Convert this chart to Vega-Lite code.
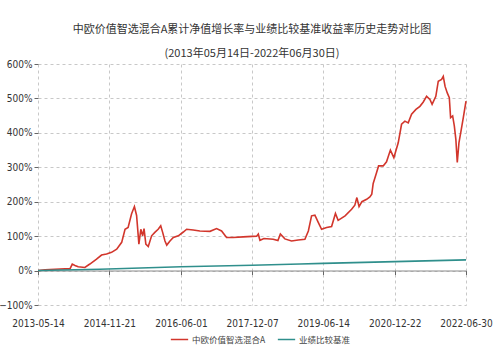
{
  "$schema": "https://vega.github.io/schema/vega-lite/v6.json",
  "width": 428,
  "height": 241,
  "autosize": {"type": "none"},
  "padding": {"left": 38, "top": 64, "right": 34, "bottom": 53},
  "background": "white",
  "title": {
    "text": ["中欧价值智选混合A累计净值增长率与业绩比较基准收益率历史走势对比图", "(2013年05月14日-2022年06月30日)"],
    "font": "Noto Sans CJK SC",
    "fontSize": 11,
    "fontWeight": "normal",
    "color": "#333333",
    "lineHeight": 24,
    "anchor": "middle",
    "offset": 0
  },
  "config": {
    "view": {"stroke": null},
    "axis": {"labelFont": "DejaVu Sans Condensed", "labelColor": "#333333", "labelFontSize": 10, "labelOverlap": false, "labelFlush": false}
  },
  "data": {
    "values": [
      {"d": "2013/05/14", "s": "中欧价值智选混合A", "v": 0},
      {"d": "2013/07/08", "s": "中欧价值智选混合A", "v": 0.02},
      {"d": "2013/09/23", "s": "中欧价值智选混合A", "v": 0.04},
      {"d": "2013/12/10", "s": "中欧价值智选混合A", "v": 0.05},
      {"d": "2014/01/18", "s": "中欧价值智选混合A", "v": 0.05},
      {"d": "2014/02/05", "s": "中欧价值智选混合A", "v": 0.19},
      {"d": "2014/02/26", "s": "中欧价值智选混合A", "v": 0.15},
      {"d": "2014/03/23", "s": "中欧价值智选混合A", "v": 0.11},
      {"d": "2014/05/14", "s": "中欧价值智选混合A", "v": 0.09},
      {"d": "2014/06/22", "s": "中欧价值智选混合A", "v": 0.19},
      {"d": "2014/08/13", "s": "中欧价值智选混合A", "v": 0.33},
      {"d": "2014/09/21", "s": "中欧价值智选混合A", "v": 0.45},
      {"d": "2014/10/30", "s": "中欧价值智选混合A", "v": 0.48},
      {"d": "2014/12/08", "s": "中欧价值智选混合A", "v": 0.53},
      {"d": "2015/01/17", "s": "中欧价值智选混合A", "v": 0.62},
      {"d": "2015/02/25", "s": "中欧价值智选混合A", "v": 0.82},
      {"d": "2015/03/23", "s": "中欧价值智选混合A", "v": 1.20},
      {"d": "2015/04/16", "s": "中欧价值智选混合A", "v": 1.25},
      {"d": "2015/05/13", "s": "中欧价值智选混合A", "v": 1.65},
      {"d": "2015/06/04", "s": "中欧价值智选混合A", "v": 1.86},
      {"d": "2015/06/21", "s": "中欧价值智选混合A", "v": 1.60},
      {"d": "2015/07/09", "s": "中欧价值智选混合A", "v": 0.77},
      {"d": "2015/07/24", "s": "中欧价值智选混合A", "v": 1.20},
      {"d": "2015/08/07", "s": "中欧价值智选混合A", "v": 1.01},
      {"d": "2015/08/18", "s": "中欧价值智选混合A", "v": 1.22},
      {"d": "2015/09/01", "s": "中欧价值智选混合A", "v": 0.77},
      {"d": "2015/09/20", "s": "中欧价值智选混合A", "v": 0.70},
      {"d": "2015/10/16", "s": "中欧价值智选混合A", "v": 1.01},
      {"d": "2015/11/10", "s": "中欧价值智选混合A", "v": 1.11},
      {"d": "2015/12/06", "s": "中欧价值智选混合A", "v": 1.20},
      {"d": "2015/12/26", "s": "中欧价值智选混合A", "v": 1.30},
      {"d": "2016/01/10", "s": "中欧价值智选混合A", "v": 1.11},
      {"d": "2016/01/28", "s": "中欧价值智选混合A", "v": 0.86},
      {"d": "2016/02/11", "s": "中欧价值智选混合A", "v": 0.74},
      {"d": "2016/03/07", "s": "中欧价值智选混合A", "v": 0.86},
      {"d": "2016/04/02", "s": "中欧价值智选混合A", "v": 0.96},
      {"d": "2016/05/11", "s": "中欧价值智选混合A", "v": 1.01},
      {"d": "2016/06/19", "s": "中欧价值智选混合A", "v": 1.12},
      {"d": "2016/07/15", "s": "中欧价值智选混合A", "v": 1.20},
      {"d": "2016/09/04", "s": "中欧价值智选混合A", "v": 1.18},
      {"d": "2016/10/26", "s": "中欧价值智选混合A", "v": 1.15},
      {"d": "2017/01/13", "s": "中欧价值智选混合A", "v": 1.14},
      {"d": "2017/03/05", "s": "中欧价值智选混合A", "v": 1.22},
      {"d": "2017/04/13", "s": "中欧价值智选混合A", "v": 1.15},
      {"d": "2017/05/22", "s": "中欧价值智选混合A", "v": 0.96},
      {"d": "2017/07/12", "s": "中欧价值智选混合A", "v": 0.96},
      {"d": "2017/09/28", "s": "中欧价值智选混合A", "v": 0.98},
      {"d": "2018/01/11", "s": "中欧价值智选混合A", "v": 1.00},
      {"d": "2018/01/24", "s": "中欧价值智选混合A", "v": 1.06},
      {"d": "2018/02/06", "s": "中欧价值智选混合A", "v": 0.88},
      {"d": "2018/03/09", "s": "中欧价值智选混合A", "v": 0.93},
      {"d": "2018/05/20", "s": "中欧价值智选混合A", "v": 0.91},
      {"d": "2018/06/26", "s": "中欧价值智选混合A", "v": 0.87},
      {"d": "2018/07/15", "s": "中欧价值智选混合A", "v": 1.06},
      {"d": "2018/08/19", "s": "中欧价值智选混合A", "v": 0.92},
      {"d": "2018/10/10", "s": "中欧价值智选混合A", "v": 0.86},
      {"d": "2018/12/01", "s": "中欧价值智选混合A", "v": 0.89},
      {"d": "2019/01/22", "s": "中欧价值智选混合A", "v": 0.91},
      {"d": "2019/02/18", "s": "中欧价值智选混合A", "v": 1.15},
      {"d": "2019/03/15", "s": "中欧价值智选混合A", "v": 1.59},
      {"d": "2019/04/10", "s": "中欧价值智选混合A", "v": 1.61},
      {"d": "2019/05/06", "s": "中欧价值智选混合A", "v": 1.40},
      {"d": "2019/06/01", "s": "中欧价值智选混合A", "v": 1.20},
      {"d": "2019/07/10", "s": "中欧价值智选混合A", "v": 1.25},
      {"d": "2019/08/18", "s": "中欧价值智选混合A", "v": 1.28},
      {"d": "2019/09/17", "s": "中欧价值智选混合A", "v": 1.66},
      {"d": "2019/10/08", "s": "中欧价值智选混合A", "v": 1.46},
      {"d": "2019/12/01", "s": "中欧价值智选混合A", "v": 1.59},
      {"d": "2020/01/21", "s": "中欧价值智选混合A", "v": 1.78},
      {"d": "2020/02/15", "s": "中欧价值智选混合A", "v": 1.90},
      {"d": "2020/03/02", "s": "中欧价值智选混合A", "v": 2.12},
      {"d": "2020/03/19", "s": "中欧价值智选混合A", "v": 1.86},
      {"d": "2020/04/10", "s": "中欧价值智选混合A", "v": 2.00},
      {"d": "2020/05/17", "s": "中欧价值智选混合A", "v": 2.07},
      {"d": "2020/06/11", "s": "中欧价值智选混合A", "v": 2.14},
      {"d": "2020/06/26", "s": "中欧价值智选混合A", "v": 2.22},
      {"d": "2020/07/07", "s": "中欧价值智选混合A", "v": 2.53},
      {"d": "2020/08/02", "s": "中欧价值智选混合A", "v": 2.84},
      {"d": "2020/08/18", "s": "中欧价值智选混合A", "v": 3.04},
      {"d": "2020/09/23", "s": "中欧价值智选混合A", "v": 3.04},
      {"d": "2020/10/19", "s": "中欧价值智选混合A", "v": 3.16},
      {"d": "2020/11/18", "s": "中欧价值智选混合A", "v": 3.50},
      {"d": "2020/12/15", "s": "中欧价值智选混合A", "v": 3.28},
      {"d": "2021/01/18", "s": "中欧价值智选混合A", "v": 3.71},
      {"d": "2021/02/13", "s": "中欧价值智选混合A", "v": 4.25},
      {"d": "2021/03/11", "s": "中欧价值智选混合A", "v": 4.34},
      {"d": "2021/04/06", "s": "中欧价值智选混合A", "v": 4.29},
      {"d": "2021/05/02", "s": "中欧价值智选混合A", "v": 4.54},
      {"d": "2021/06/05", "s": "中欧价值智选混合A", "v": 4.68},
      {"d": "2021/07/06", "s": "中欧价值智选混合A", "v": 4.77},
      {"d": "2021/07/31", "s": "中欧价值智选混合A", "v": 4.89},
      {"d": "2021/08/27", "s": "中欧价值智选混合A", "v": 5.06},
      {"d": "2021/09/22", "s": "中欧价值智选混合A", "v": 4.97},
      {"d": "2021/10/09", "s": "中欧价值智选混合A", "v": 4.83},
      {"d": "2021/11/07", "s": "中欧价值智选混合A", "v": 5.06},
      {"d": "2021/11/26", "s": "中欧价值智选混合A", "v": 5.50},
      {"d": "2021/12/22", "s": "中欧价值智选混合A", "v": 5.55},
      {"d": "2022/01/04", "s": "中欧价值智选混合A", "v": 5.64},
      {"d": "2022/01/18", "s": "中欧价值智选混合A", "v": 5.35},
      {"d": "2022/02/04", "s": "中欧价值智选混合A", "v": 5.16},
      {"d": "2022/02/20", "s": "中欧价值智选混合A", "v": 5.02},
      {"d": "2022/03/02", "s": "中欧价值智选混合A", "v": 4.44},
      {"d": "2022/03/18", "s": "中欧价值智选混合A", "v": 4.49},
      {"d": "2022/03/31", "s": "中欧价值智选混合A", "v": 4.20},
      {"d": "2022/04/12", "s": "中欧价值智选混合A", "v": 3.81},
      {"d": "2022/04/23", "s": "中欧价值智选混合A", "v": 3.14},
      {"d": "2022/05/06", "s": "中欧价值智选混合A", "v": 3.71},
      {"d": "2022/05/22", "s": "中欧价值智选混合A", "v": 4.05},
      {"d": "2022/06/09", "s": "中欧价值智选混合A", "v": 4.44},
      {"d": "2022/06/30", "s": "中欧价值智选混合A", "v": 4.92},
      {"d": "2013/05/14", "s": "业绩比较基准", "v": 0},
      {"d": "2014/09/08", "s": "业绩比较基准", "v": 0.04},
      {"d": "2016/06/01", "s": "业绩比较基准", "v": 0.11},
      {"d": "2017/12/07", "s": "业绩比较基准", "v": 0.155},
      {"d": "2018/12/15", "s": "业绩比较基准", "v": 0.19},
      {"d": "2019/06/14", "s": "业绩比较基准", "v": 0.21},
      {"d": "2020/12/22", "s": "业绩比较基准", "v": 0.26},
      {"d": "2022/06/30", "s": "业绩比较基准", "v": 0.31}
    ]
  },
  "mark": {"type": "line", "strokeWidth": 1.6, "interpolate": "linear"},
  "encoding": {
    "x": {
      "field": "d",
      "type": "temporal",
      "scale": {
        "domain": [{"year": 2013, "month": 5, "date": 14}, {"year": 2022, "month": 6, "date": 30}],
        "nice": false
      },
      "axis": {
        "title": null,
        "format": "%Y-%m-%d",
        "values": [
          {"year": 2013, "month": 5, "date": 14},
          {"year": 2014, "month": 11, "date": 21},
          {"year": 2016, "month": 6, "date": 1},
          {"year": 2017, "month": 12, "date": 7},
          {"year": 2019, "month": 6, "date": 14},
          {"year": 2020, "month": 12, "date": 22},
          {"year": 2022, "month": 6, "date": 30}
        ],
        "offset": -34.5,
        "domain": true,
        "domainColor": "#8a8a8a",
        "ticks": true,
        "tickSize": 4,
        "tickColor": "#666666",
        "labelPadding": 44,
        "grid": true,
        "gridDash": [3, 3],
        "gridColor": "#c8c8c8"
      }
    },
    "y": {
      "field": "v",
      "type": "quantitative",
      "scale": {"domain": [-1, 6], "nice": false},
      "axis": {
        "title": null,
        "values": [-1, 0, 1, 2, 3, 4, 5, 6],
        "format": ".0%",
        "labelOverlap": false,
        "domain": false,
        "tickSize": 4,
        "tickColor": "#666666",
        "labelPadding": 2,
        "grid": true,
        "gridDash": [3, 3],
        "gridColor": "#c8c8c8"
      }
    },
    "color": {
      "field": "s",
      "type": "nominal",
      "scale": {"domain": ["中欧价值智选混合A", "业绩比较基准"], "range": ["#d2362c", "#2f8f8c"]},
      "legend": {
        "title": null,
        "orient": "none",
        "legendX": 132,
        "legendY": 266,
        "direction": "horizontal",
        "symbolType": "stroke",
        "symbolSize": 300,
        "symbolStrokeWidth": 1.5,
        "labelFont": "Noto Sans CJK SC",
        "labelFontSize": 8.5,
        "labelColor": "#444444",
        "labelOffset": 3,
        "columnPadding": 8
      }
    }
  }
}
